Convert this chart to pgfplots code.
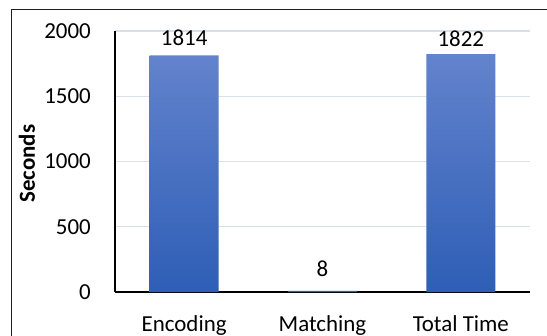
\documentclass[border=0pt]{standalone}
\usepackage{pgfplots}
\pgfplotsset{compat=1.18}
\usepackage{pgfplotstable}
\usepackage{fontspec}
\setmainfont{Carlito}

\definecolor{bartop}{RGB}{99,131,205}
\definecolor{barbot}{RGB}{46,94,182}
\definecolor{gridc}{RGB}{218,223,232}
\definecolor{framec}{RGB}{30,30,30}
\newcommand\chartfont{\fontsize{23}{27}\selectfont}

% run times in seconds; gap = space between bar top and its value label (bp)
\pgfplotstableread{
x y gap
0 1814 10
1 8 14
2 1822 8
}\timedata

\begin{document}
\begin{tikzpicture}
\useasboundingbox (0,0) rectangle (547bp,336bp);
\clip (0,0) rectangle (547bp,336bp);
% chart frame
\draw[framec, line width=1.5bp] (11.7bp,-20bp) rectangle (570bp,326.7bp);
\begin{axis}[
  at={(115bp,44bp)}, anchor=south west,
  scale only axis, width=415bp, height=261bp,
  xmin=-0.5, xmax=2.5, ymin=0, ymax=2000,
  axis lines*=left,
  axis line style={black, line width=1.3bp},
  major tick length=0pt,
  xtick={0,1,2},
  xticklabels={Encoding, Matching, Total Time},
  ytick={0,500,1000,1500,2000},
  scaled y ticks=false,
  /pgf/number format/1000 sep={},
  /pgf/number format/assume math mode=true,
  tick label style={font=\chartfont, text=black},
  xticklabel style={anchor=base, inner sep=0pt, yshift=-39.5bp},
  yticklabel style={anchor=east, inner sep=0pt, xshift=-24bp},
  ymajorgrids,
  grid style={gridc, line width=1.3bp},
  every axis y label/.style={at={(axis description cs:-0.193,0.492)},
    rotate=90, anchor=base, font=\chartfont\bfseries},
  ylabel={Seconds},
  clip=false,
]
\addplot[ybar, bar width=69bp, draw=none, top color=bartop, bottom color=barbot]
  table[x=x, y=y] {\timedata};
\addplot[only marks, mark=none,
  nodes near coords,
  visualization depends on={\thisrow{gap} \as \labgap},
  every node near coord/.append style={anchor=base, inner sep=0pt,
    yshift=\labgap bp, font=\chartfont, text=black}]
  table[x=x, y=y] {\timedata};
\end{axis}
\end{tikzpicture}
\end{document}
